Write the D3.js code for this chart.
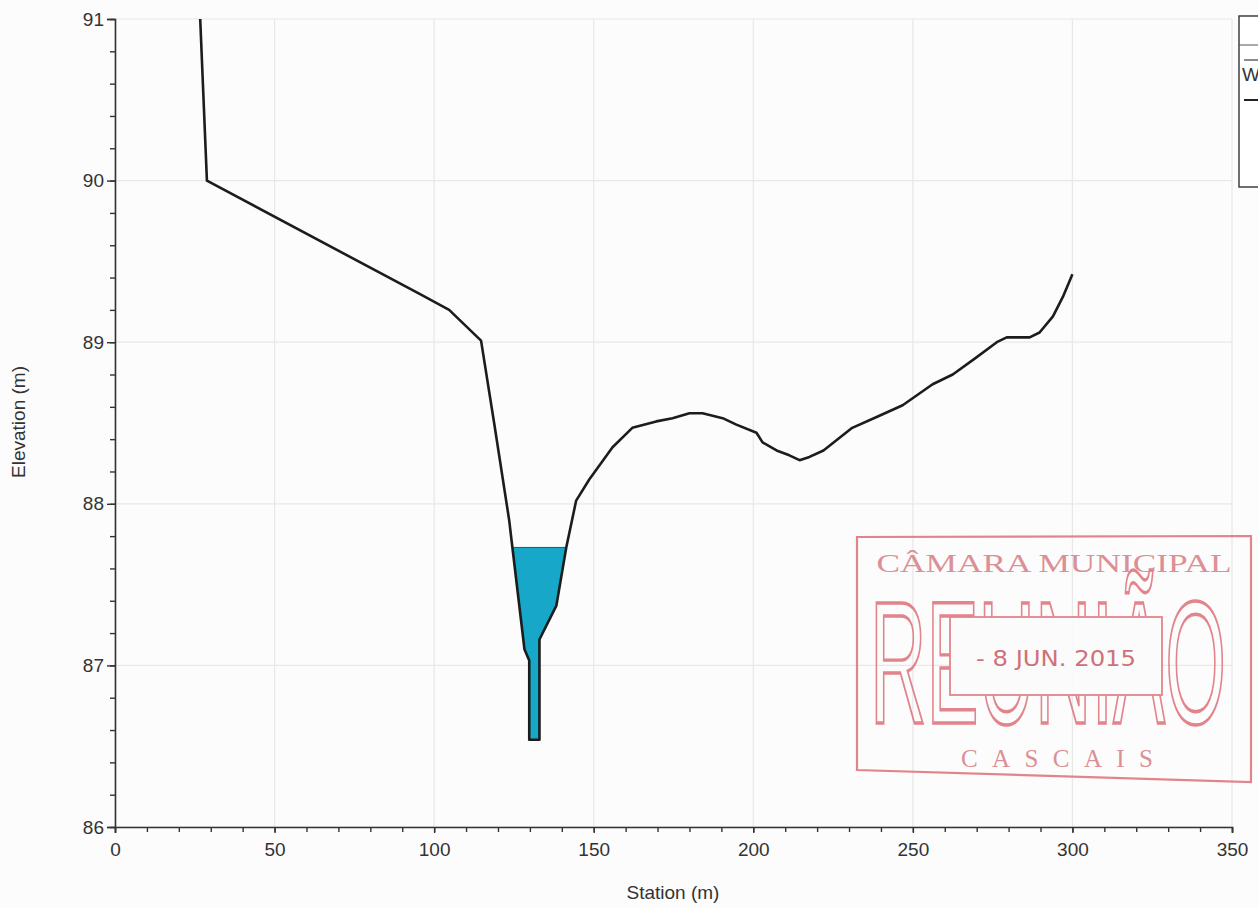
<!DOCTYPE html>
<html>
<head>
<meta charset="utf-8">
<script src="https://cdn.jsdelivr.net/npm/d3@7"></script>
<style>
  html, body { margin: 0; padding: 0; background: #fcfcfc; }
  svg { display: block; }
</style>
</head>
<body>
<script>
// ---- data ----
const stations = [26.7, 28.8, 95.3, 104.7, 114.7, 118.8, 123.5, 128.3, 129.8, 129.8, 133.0, 133.0, 138.3, 141.4, 144.5, 148.6, 155.9, 162.1, 169.6, 174.7, 180.0, 184.1, 190.4, 194.7, 201.0, 202.9, 207.3, 211.3, 214.5, 217.6, 222.0, 231.0, 239.0, 246.8, 256.2, 262.5, 269.5, 276.3, 279.4, 286.6, 289.7, 293.9, 297.0, 300.0];
const elevations = [91.0, 90.0, 89.30, 89.20, 89.01, 88.50, 87.90, 87.10, 87.03, 86.54, 86.54, 87.16, 87.37, 87.73, 88.02, 88.15, 88.35, 88.47, 88.51, 88.53, 88.56, 88.56, 88.53, 88.49, 88.44, 88.38, 88.33, 88.30, 88.27, 88.29, 88.33, 88.47, 88.54, 88.61, 88.74, 88.80, 88.90, 89.00, 89.03, 89.03, 89.06, 89.16, 89.28, 89.42];
const waterSurface = 87.73;
const xTicks = [0, 50, 100, 150, 200, 250, 300, 350];
const yTicks = [86, 87, 88, 89, 90, 91];
const xLabel = "Station (m)";
const yLabel = "Elevation (m)";

// ---- layout ----
const W = 1258, H = 908;
const FONT = "Liberation Sans, Arial, sans-serif";
const svg = d3.select("body").append("svg").attr("width", W).attr("height", H);
svg.append("rect").attr("width", W).attr("height", H).attr("fill", "#fcfcfc");

const x = d3.scaleLinear().domain([0, 350]).range([115, 1232]);
const y = d3.scaleLinear().domain([86, 91]).range([827, 19]);

// grid
const grid = svg.append("g").attr("stroke", "#e8e8e8").attr("stroke-width", 1.2);
xTicks.forEach(t => grid.append("line").attr("x1", x(t)).attr("x2", x(t)).attr("y1", y(91)).attr("y2", y(86)));
yTicks.forEach(t => grid.append("line").attr("x1", x(0)).attr("x2", x(350)).attr("y1", y(t)).attr("y2", y(t)));

// water polygon (ground below water surface, clipped)
const ground = stations.map((s, i) => [s, elevations[i]]);
let wpts = [];
for (let i = 0; i < ground.length - 1; i++) {
  const [s0, e0] = ground[i], [s1, e1] = ground[i + 1];
  if (e0 <= waterSurface) wpts.push([s0, e0]);
  if ((e0 - waterSurface) * (e1 - waterSurface) < 0) {
    const t = (waterSurface - e0) / (e1 - e0);
    wpts.push([s0 + t * (s1 - s0), waterSurface]);
  }
}
svg.append("path")
  .attr("d", d3.line().x(d => x(d[0])).y(d => y(d[1]))(wpts) + "Z")
  .attr("fill", "#17a7c8").attr("stroke", "#1a5a6a").attr("stroke-width", 1);

// ground line
svg.append("path")
  .attr("d", d3.line().x(d => x(d[0])).y(d => y(d[1])).curve(d3.curveMonotoneX)(ground.slice(0, 1)).concat ? 
        d3.line().x(d => x(d[0])).y(d => y(d[1]))(ground) : "")
  .attr("fill", "none").attr("stroke", "#1c1c1c").attr("stroke-width", 2.6).attr("stroke-linejoin", "round");

// axes
const fmt = d3.format("d");
const xAxis = d3.axisBottom(x).tickValues(xTicks).tickSize(6).tickPadding(10).tickFormat(fmt);
svg.append("g").attr("transform", `translate(0,${y(86)})`).call(xAxis);
const xMinor = d3.axisBottom(x).tickValues(d3.range(0, 351, 10)).tickSize(5).tickFormat("");
svg.append("g").attr("transform", `translate(0,${y(86)})`).call(xMinor).select(".domain").remove();

const yAxis = d3.axisLeft(y).tickValues(yTicks).tickSize(8).tickPadding(3).tickFormat(fmt);
svg.append("g").attr("transform", `translate(${x(0)},0)`).call(yAxis);
const yMinor = d3.axisLeft(y).tickValues(d3.range(86, 91.001, 0.2)).tickSize(5).tickFormat("");
svg.append("g").attr("transform", `translate(${x(0)},0)`).call(yMinor).select(".domain").remove();

svg.selectAll(".domain").attr("stroke", "#333").attr("stroke-width", 1.6);
svg.selectAll(".tick line").attr("stroke", "#333").attr("stroke-width", 1.4);
svg.selectAll(".tick text").attr("font-family", FONT).attr("font-size", 19).attr("fill", "#333");

svg.append("text").attr("x", 673).attr("y", 899).attr("text-anchor", "middle")
  .attr("font-family", FONT).attr("font-size", 19).attr("fill", "#333").text(xLabel);
svg.append("text").attr("transform", `translate(25,422) rotate(-90)`).attr("text-anchor", "middle")
  .attr("font-family", FONT).attr("font-size", 19).attr("fill", "#333").text(yLabel);

// legend box (cut off at right edge)
const lg = svg.append("g");
lg.append("rect").attr("x", 1239).attr("y", 16).attr("width", 40).attr("height", 171).attr("fill", "#fff").attr("stroke", "#333").attr("stroke-width", 1.4);
lg.append("line").attr("x1", 1239).attr("x2", 1258).attr("y1", 45).attr("y2", 45).attr("stroke", "#555").attr("stroke-width", 1);
lg.append("line").attr("x1", 1244).attr("x2", 1258).attr("y1", 60).attr("y2", 60).attr("stroke", "#666").attr("stroke-width", 1.5);
lg.append("text").attr("x", 1242).attr("y", 81).attr("font-family", FONT).attr("font-size", 19).attr("fill", "#333").text("WS PF 1");
lg.append("line").attr("x1", 1244).attr("x2", 1258).attr("y1", 100).attr("y2", 100).attr("stroke", "#222").attr("stroke-width", 2);

// stamp
const red = "#e0787f";
const st = svg.append("g").attr("opacity", 0.9);
st.append("path").attr("d", "M857,537 L1251,536 L1251,782 L857,770 Z").attr("fill", "none").attr("stroke", red).attr("stroke-width", 2.2);
st.append("text").attr("x", 1054).attr("y", 572).attr("text-anchor", "middle")
  .attr("font-family", "Liberation Serif, DejaVu Serif, serif").attr("font-size", 25).attr("fill", "#d8858b")
  .attr("textLength", 355).attr("lengthAdjust", "spacingAndGlyphs").text("CÂMARA MUNICIPAL");
st.append("text").attr("transform", "translate(870,723) scale(1,1.55)")
  .attr("font-family", "Liberation Sans Narrow, Liberation Sans, sans-serif").attr("font-size", 113)
  .attr("fill", "none").attr("stroke", red).attr("stroke-width", 2.2)
  .attr("textLength", 356).attr("lengthAdjust", "spacingAndGlyphs").text("REUNIÃO");
st.append("rect").attr("x", 950).attr("y", 617).attr("width", 212).attr("height", 78).attr("fill", "#fdfbfb").attr("stroke", red).attr("stroke-width", 1.8);
st.append("text").attr("x", 1056).attr("y", 666).attr("text-anchor", "middle")
  .attr("font-family", "DejaVu Sans Condensed, Liberation Sans Narrow, sans-serif").attr("font-size", 22).attr("fill", "#c9646c")
  .attr("textLength", 160).attr("lengthAdjust", "spacingAndGlyphs").text("- 8 JUN. 2015");
st.append("text").attr("x", 1057).attr("y", 767).attr("text-anchor", "middle")
  .attr("font-family", "Liberation Serif, DejaVu Serif, serif").attr("font-size", 25).attr("fill", "#d8858b")
  .attr("textLength", 192).attr("lengthAdjust", "spacing").text("CASCAIS");
</script>
</body>
</html>
